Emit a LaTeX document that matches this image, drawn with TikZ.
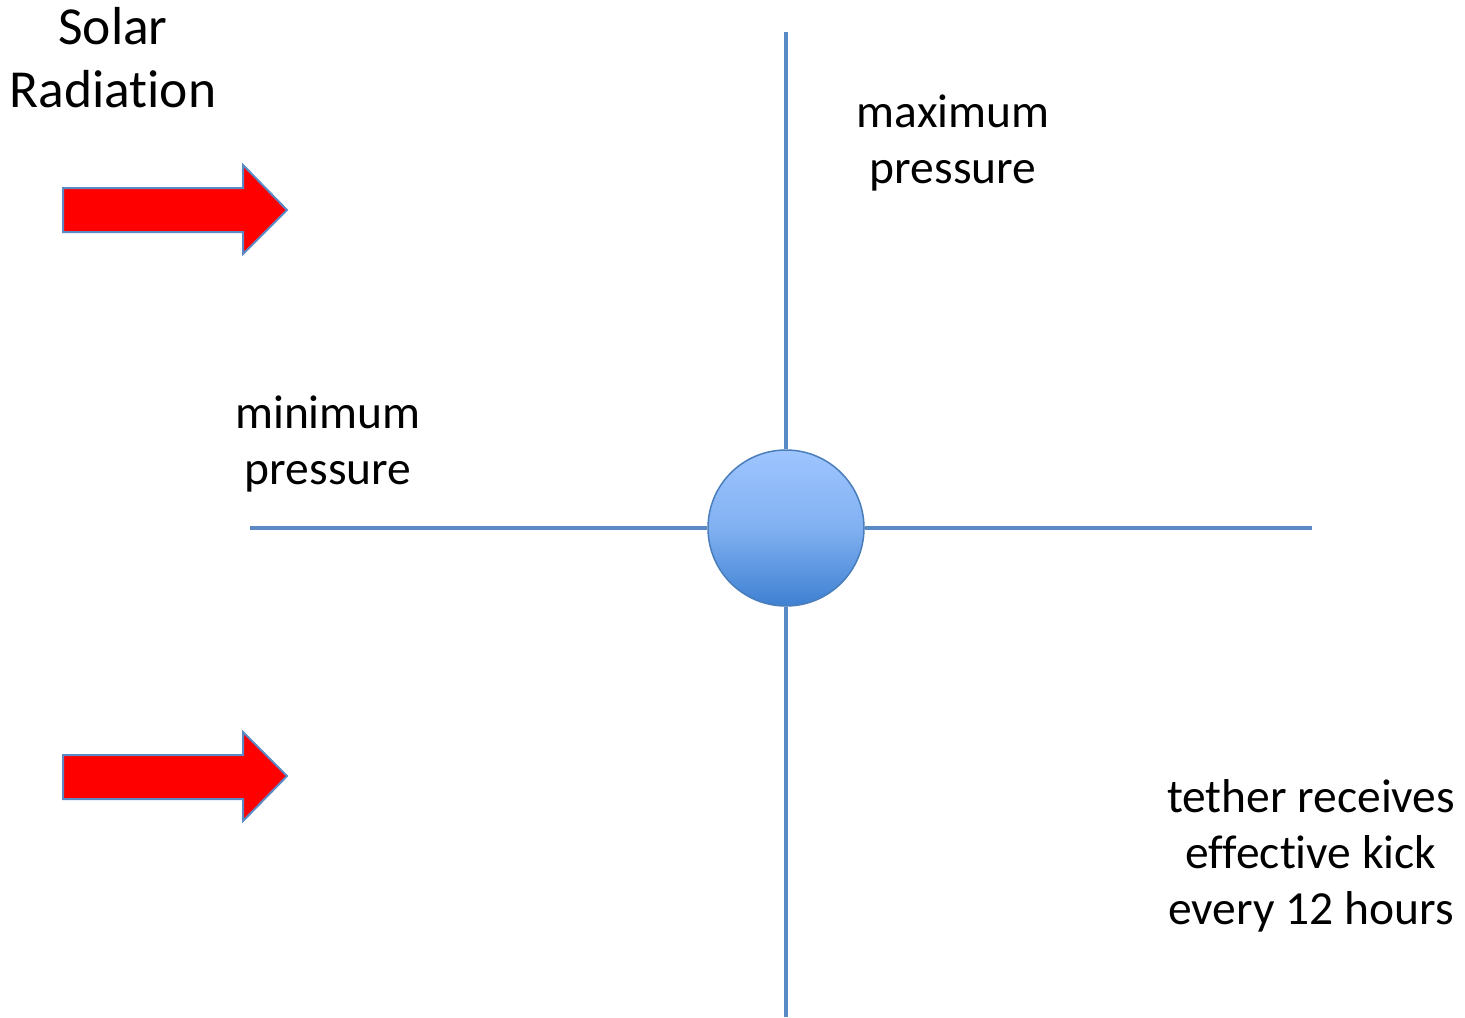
\documentclass[tikz,border=0pt]{standalone}
\usepackage{fontspec}
\setmainfont[Ligatures=NoCommon]{Carlito}
\definecolor{axisblue}{HTML}{5A8AC6}
\definecolor{balltop}{HTML}{9EC5FF}
\definecolor{ballbot}{HTML}{3E80D2}
\definecolor{ballrim}{HTML}{4A7EBB}
\begin{document}
\begin{tikzpicture}[x=1bp,y=-1bp,
  axis/.style={draw=axisblue,line width=3.5bp},
  redarrow/.style={fill=red,draw=axisblue,line width=2bp,line join=miter},
  bigtxt/.style={font=\fontsize{53.5bp}{63bp}\selectfont,align=center,inner sep=0},
  lbl/.style={font=\fontsize{47.5bp}{56bp}\selectfont,align=center,inner sep=0}]
\useasboundingbox (0,0) rectangle (1465,1017);
% axes
\coordinate (top) at (786,32);
\coordinate (bottom) at (786,1017);
\coordinate (left) at (250,528);
\coordinate (right) at (1312,528);
\node[circle,minimum size=156bp,inner sep=0,draw=ballrim,line width=1.5bp,
      top color=balltop,bottom color=ballbot,middle color=balltop!70!ballbot] (ball) at (786,528) {};
\draw[axis] (top) -- (ball.north);
\draw[axis] (ball.south) -- (bottom);
\draw[axis] (left) -- (ball.west);
\draw[axis] (ball.east) -- (right);
% arrows
\draw[redarrow] (63,188) -- (243,188) -- (243,165) -- (287,210) coordinate (tipA) -- (243,254) -- (243,232) -- (63,232) -- cycle;
\draw[redarrow] (63,755) -- (243,755) -- (243,732) -- (287,776) coordinate (tipB) -- (243,821) -- (243,799) -- (63,799) -- cycle;
% labels
\node[bigtxt] (solar) at (113,58) {Solar\\Radiation};
\node[lbl] (maxp) at (953,143) {maximum\\pressure};
\node[lbl] (minp) at (328,444) {minimum\\pressure};
\node[lbl] (kick) at (1311,856) {tether receives\\effective kick\\every 12 hours};
\end{tikzpicture}
\end{document}
